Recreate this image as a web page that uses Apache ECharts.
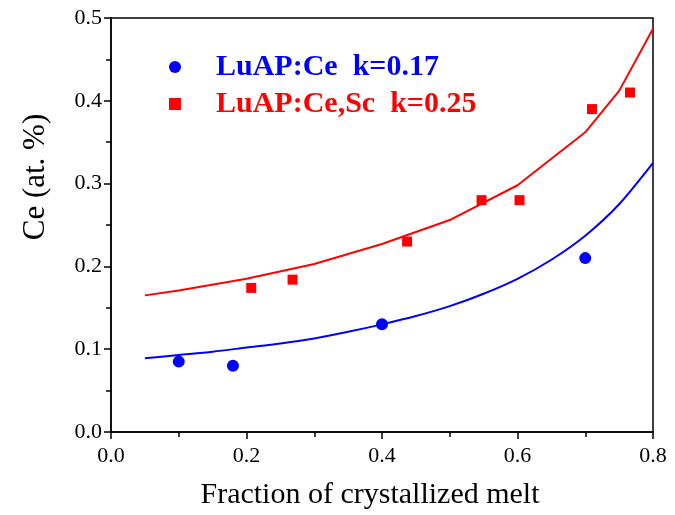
<!DOCTYPE html>
<html>
<head>
<meta charset="utf-8">
<script src="https://cdn.jsdelivr.net/npm/echarts@6/dist/echarts.min.js"></script>
<style>
  html, body { margin: 0; padding: 0; background: #fff; }
  #grafico { width: 675px; height: 515px; }
</style>
</head>
<body>
<div id="grafico"></div>
<script>
// Pontos medidos
const ceX = [0.1, 0.18, 0.4, 0.7];
const ceY = [0.085, 0.08, 0.13, 0.21];
const scX = [0.207, 0.268, 0.437, 0.547, 0.603, 0.71, 0.766];
const scY = [0.174, 0.184, 0.23, 0.28, 0.28, 0.39, 0.41];

// Curvas ajustadas
const ajusteCeX = [0.05, 0.1, 0.15, 0.2, 0.25, 0.3, 0.35, 0.4, 0.45, 0.5, 0.55, 0.6, 0.65, 0.7, 0.75, 0.8];
const ajusteCeY = [0.089, 0.093, 0.097, 0.102, 0.107, 0.113, 0.121, 0.13, 0.14, 0.152, 0.167, 0.185, 0.208, 0.237, 0.275, 0.325];
const ajusteScX = [0.05, 0.1, 0.2, 0.3, 0.4, 0.5, 0.6, 0.7, 0.75, 0.8];
const ajusteScY = [0.165, 0.171, 0.185, 0.203, 0.227, 0.256, 0.298, 0.362, 0.412, 0.487];

const xTicks = [0, 0.8, 0.2];   // min, max, intervalo
const yTicks = [0, 0.5, 0.1];

const par = (xs, ys) => xs.map((x, i) => [x, ys[i]]);
const fonte = "Liberation Serif";

let chart = echarts.init(document.getElementById("grafico"));

chart.setOption({
  animation: false,
  grid: {
    left: 111, right: 22, top: 18, bottom: 80,
    show: true, borderColor: "#000", borderWidth: 1.5
  },
  legend: {
    orient: "vertical",
    left: 164, top: 47,
    itemGap: 7,
    itemWidth: 12, itemHeight: 12,
    textStyle: {
      fontFamily: fonte, fontWeight: "bold", fontSize: 30,
      lineHeight: 30, padding: [0, 0, 0, 30]
    },
    data: [
      { name: "LuAP:Ce  k=0.17", icon: "circle", itemStyle: { opacity: 1 }, textStyle: { color: "#0000ff" } },
      { name: "LuAP:Ce,Sc  k=0.25", icon: "rect", itemStyle: { opacity: 1 }, textStyle: { color: "#ff0000" } }
    ]
  },
  xAxis: {
    type: "value",
    min: xTicks[0], max: xTicks[1], interval: xTicks[2],
    name: "Fraction of crystallized melt",
    nameLocation: "middle", nameGap: 48,
    nameTextStyle: { fontFamily: fonte, fontSize: 30, color: "#000", padding: [0, 24, 0, 0] },
    axisLine: { lineStyle: { color: "#000", width: 1.5 } },
    axisTick: { inside: false, length: 7, lineStyle: { color: "#000", width: 1.5 } },
    minorTick: { show: true, splitNumber: 2, length: 5, lineStyle: { color: "#000", width: 1.5 } },
    splitLine: { show: false },
    axisLabel: {
      fontFamily: fonte, fontSize: 22, color: "#000", margin: 13,
      formatter: (v) => v.toFixed(1)
    }
  },
  yAxis: {
    type: "value",
    min: yTicks[0], max: yTicks[1], interval: yTicks[2],
    name: "Ce (at. %)",
    nameLocation: "middle", nameGap: 60,
    nameTextStyle: { fontFamily: fonte, fontSize: 31, color: "#000", padding: [0, 0, 0, 96] },
    axisLine: { lineStyle: { color: "#000", width: 1.5 } },
    axisTick: { inside: false, length: 7, lineStyle: { color: "#000", width: 1.5 } },
    minorTick: { show: true, splitNumber: 2, length: 5, lineStyle: { color: "#000", width: 1.5 } },
    splitLine: { show: false },
    axisLabel: {
      fontFamily: fonte, fontSize: 22, color: "#000", margin: 9,
      formatter: (v) => v.toFixed(1)
    }
  },
  series: [
    {
      name: "LuAP:Ce  k=0.17",
      type: "scatter",
      symbol: "circle",
      symbolSize: 12,
      itemStyle: { color: "#0000ff", opacity: 1 },
      data: par(ceX, ceY),
      z: 3
    },
    {
      name: "LuAP:Ce,Sc  k=0.25",
      type: "scatter",
      symbol: "rect",
      symbolSize: 10,
      itemStyle: { color: "#ff0000", opacity: 1 },
      data: par(scX, scY),
      z: 3
    },
    {
      name: "ajuste Ce",
      type: "line",
      showSymbol: false,
      smooth: 0.3,
      lineStyle: { color: "#0000ff", width: 2 },
      data: par(ajusteCeX, ajusteCeY),
      z: 2
    },
    {
      name: "ajuste Sc",
      type: "line",
      showSymbol: false,
      lineStyle: { color: "#ff0000", width: 2 },
      data: par(ajusteScX, ajusteScY),
      z: 2
    }
  ]
});
</script>
</body>
</html>
